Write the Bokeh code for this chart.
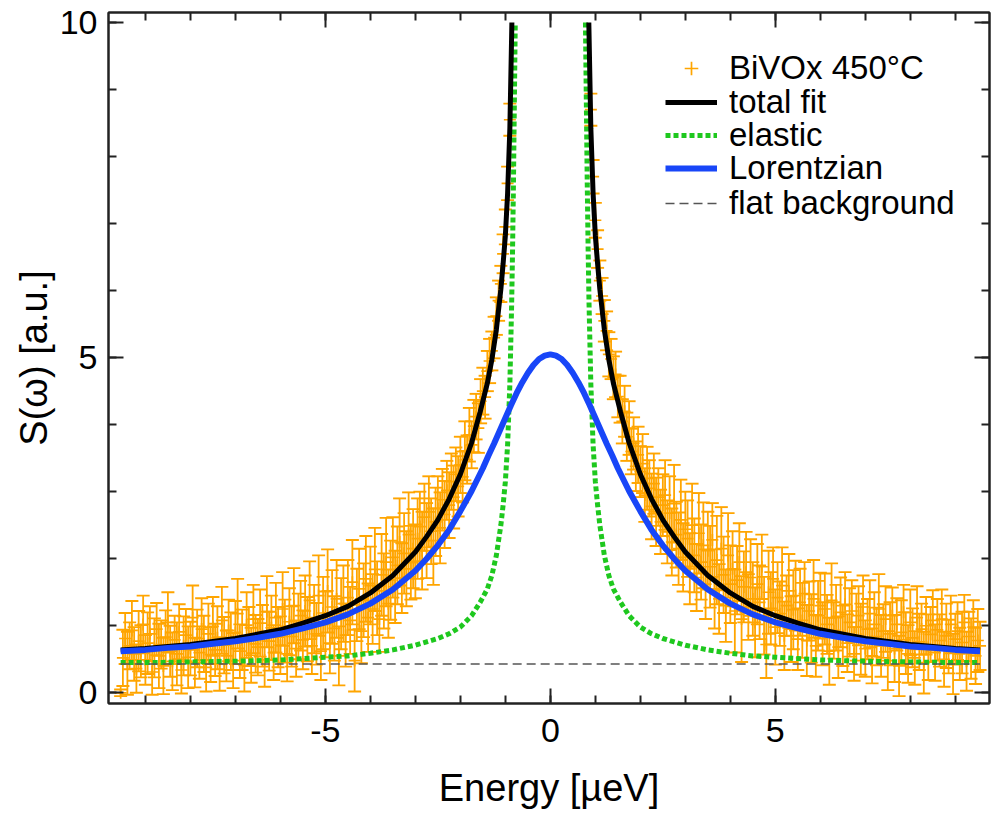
from bokeh.plotting import figure
from bokeh.models import (Range1d, LinearAxis, SingleIntervalTicker, Legend,
                          LegendItem, ColumnDataSource)
from bokeh.embed import file_html
from bokeh.resources import INLINE

# ---------------- data ----------------
energy_left = [
    -9.55,
    -9.50, -9.45, -9.40, -9.35, -9.30, -9.25, -9.20, -9.15, -9.10, -9.05,
    -9.00, -8.95, -8.90, -8.85, -8.80, -8.75, -8.70, -8.65, -8.60, -8.55,
    -8.50, -8.45, -8.40, -8.35, -8.30, -8.25, -8.20, -8.15, -8.10, -8.05,
    -8.00, -7.95, -7.90, -7.85, -7.80, -7.75, -7.70, -7.65, -7.60, -7.55,
    -7.50, -7.45, -7.40, -7.35, -7.30, -7.25, -7.20, -7.15, -7.10, -7.05,
    -7.00, -6.95, -6.90, -6.85, -6.80, -6.75, -6.70, -6.65, -6.60, -6.55,
    -6.50, -6.45, -6.40, -6.35, -6.30, -6.25, -6.20, -6.15, -6.10, -6.05,
    -6.00, -5.95, -5.90, -5.85, -5.80, -5.75, -5.70, -5.65, -5.60, -5.55,
    -5.50, -5.45, -5.40, -5.35, -5.30, -5.25, -5.20, -5.15, -5.10, -5.05,
    -5.00, -4.95, -4.90, -4.85, -4.80, -4.75, -4.70, -4.65, -4.60, -4.55,
    -4.50, -4.45, -4.40, -4.35, -4.30, -4.25, -4.20, -4.15, -4.10, -4.05,
    -4.00, -3.95, -3.90, -3.85, -3.80, -3.75, -3.70, -3.65, -3.60, -3.55,
    -3.50, -3.45, -3.40, -3.35, -3.30, -3.25, -3.20, -3.15, -3.10, -3.05,
    -3.00, -2.95, -2.90, -2.85, -2.80, -2.75, -2.70, -2.65, -2.60, -2.55,
    -2.50, -2.45, -2.40, -2.35, -2.30, -2.25, -2.20, -2.15, -2.10, -2.05,
    -2.00, -1.95, -1.90, -1.85, -1.80, -1.75, -1.70, -1.65, -1.60, -1.55,
    -1.50, -1.45, -1.40, -1.35, -1.30, -1.25, -1.20, -1.15, -1.10, -1.05,
    -1.00, -0.95, -0.90,
]
intensity_left = [
    0.00,
    0.52, 0.81, 0.44, 0.70, 0.93, 0.58, 0.36, 0.77, 0.62, 1.02,
    0.49, 0.74, 0.88, 0.31, 0.67, 0.95, 0.55, 0.72, 0.40, 0.83,
    1.05, 0.62, 0.47, 0.79, 0.58, 0.91, 0.34, 0.70, 0.86, 0.53,
    0.66, 1.12, 0.45, 0.81, 0.60, 0.95, 0.73, 0.38, 0.88, 0.57,
    0.99, 0.64, 0.82, 0.43, 1.08, 0.71, 0.55, 0.93, 0.77, 0.48,
    0.90, 1.18, 0.62, 0.79, 0.41, 1.01, 0.84, 0.56, 1.10, 0.73,
    0.68, 1.04, 0.85, 0.49, 1.21, 0.77, 0.97, 0.60, 1.12, 0.83,
    0.71, 1.25, 0.92, 0.58, 1.06, 0.84, 1.30, 0.66, 0.99, 1.15,
    0.79, 1.22, 0.95, 1.38, 0.70, 1.10, 0.88, 1.45, 0.62, 1.19,
    1.02, 1.52, 0.74, 1.28, 0.96, 1.40, 0.55, 1.18, 1.33, 0.86,
    1.42, 1.08, 1.65, 0.48, 1.31, 1.55, 0.92, 1.38, 1.70, 1.12,
    1.60, 1.25, 1.84, 1.41, 1.10, 1.76, 1.52, 1.95, 1.33, 1.68,
    2.02, 1.58, 1.90, 2.25, 1.71, 2.08, 1.85, 2.36, 1.94, 2.15,
    1.96, 2.30, 2.48, 2.12, 2.62, 2.27, 2.70, 2.41, 2.18, 2.55,
    2.75, 2.46, 2.88, 2.66, 3.02, 2.80, 3.15, 2.92, 3.26, 3.08,
    3.40, 3.22, 3.61, 3.48, 3.85, 3.70, 3.98, 4.12, 3.95, 4.35,
    4.50, 4.41, 4.80, 4.95, 5.10, 5.30, 5.62, 5.85, 6.10, 6.55,
    6.95, 7.60, 8.55,
]
error_left = [
    0.05,
    0.42, 0.38, 0.47, 0.35, 0.44, 0.40, 0.36, 0.45, 0.39, 0.43,
    0.37, 0.46, 0.41, 0.34, 0.44, 0.39, 0.48, 0.36, 0.42, 0.40,
    0.45, 0.38, 0.43, 0.36, 0.47, 0.41, 0.35, 0.44, 0.39, 0.46,
    0.40, 0.48, 0.37, 0.43, 0.39, 0.46, 0.42, 0.36, 0.45, 0.41,
    0.44, 0.39, 0.47, 0.40, 0.50, 0.42, 0.38, 0.46, 0.43, 0.41,
    0.47, 0.52, 0.40, 0.45, 0.39, 0.49, 0.44, 0.41, 0.51, 0.43,
    0.42, 0.50, 0.46, 0.40, 0.53, 0.44, 0.48, 0.41, 0.52, 0.45,
    0.43, 0.55, 0.47, 0.41, 0.50, 0.45, 0.56, 0.42, 0.49, 0.52,
    0.44, 0.53, 0.48, 0.58, 0.42, 0.51, 0.46, 0.60, 0.43, 0.54,
    0.49, 0.62, 0.45, 0.55, 0.48, 0.58, 0.44, 0.53, 0.57, 0.47,
    0.56, 0.50, 0.63, 0.46, 0.54, 0.60, 0.48, 0.55, 0.64, 0.51,
    0.58, 0.52, 0.62, 0.55, 0.49, 0.61, 0.56, 0.66, 0.51, 0.59,
    0.60, 0.54, 0.58, 0.65, 0.52, 0.60, 0.56, 0.63, 0.55, 0.59,
    0.55, 0.60, 0.52, 0.58, 0.50, 0.56, 0.53, 0.49, 0.57, 0.51,
    0.48, 0.53, 0.46, 0.50, 0.44, 0.49, 0.42, 0.47, 0.40, 0.45,
    0.42, 0.38, 0.44, 0.36, 0.40, 0.35, 0.39, 0.34, 0.37, 0.33,
    0.35, 0.32, 0.30, 0.33, 0.29, 0.31, 0.28, 0.30, 0.27, 0.29,
    0.26, 0.25, 0.24,
]

energy_right = [
    0.90, 0.95, 1.00,
    1.05, 1.10, 1.15, 1.20, 1.25, 1.30, 1.35, 1.40, 1.45, 1.50,
    1.55, 1.60, 1.65, 1.70, 1.75, 1.80, 1.85, 1.90, 1.95, 2.00,
    2.05, 2.10, 2.15, 2.20, 2.25, 2.30, 2.35, 2.40, 2.45, 2.50,
    2.55, 2.60, 2.65, 2.70, 2.75, 2.80, 2.85, 2.90, 2.95, 3.00,
    3.05, 3.10, 3.15, 3.20, 3.25, 3.30, 3.35, 3.40, 3.45, 3.50,
    3.55, 3.60, 3.65, 3.70, 3.75, 3.80, 3.85, 3.90, 3.95, 4.00,
    4.05, 4.10, 4.15, 4.20, 4.25, 4.30, 4.35, 4.40, 4.45, 4.50,
    4.55, 4.60, 4.65, 4.70, 4.75, 4.80, 4.85, 4.90, 4.95, 5.00,
    5.05, 5.10, 5.15, 5.20, 5.25, 5.30, 5.35, 5.40, 5.45, 5.50,
    5.55, 5.60, 5.65, 5.70, 5.75, 5.80, 5.85, 5.90, 5.95, 6.00,
    6.05, 6.10, 6.15, 6.20, 6.25, 6.30, 6.35, 6.40, 6.45, 6.50,
    6.55, 6.60, 6.65, 6.70, 6.75, 6.80, 6.85, 6.90, 6.95, 7.00,
    7.05, 7.10, 7.15, 7.20, 7.25, 7.30, 7.35, 7.40, 7.45, 7.50,
    7.55, 7.60, 7.65, 7.70, 7.75, 7.80, 7.85, 7.90, 7.95, 8.00,
    8.05, 8.10, 8.15, 8.20, 8.25, 8.30, 8.35, 8.40, 8.45, 8.50,
    8.55, 8.60, 8.65, 8.70, 8.75, 8.80, 8.85, 8.90, 8.95, 9.00,
    9.05, 9.10, 9.15, 9.20, 9.25, 9.30, 9.35, 9.40, 9.45, 9.50,
    9.55,
]
intensity_right = [
    8.70, 7.70, 7.05,
    6.62, 6.15, 5.92, 5.55, 5.40, 5.05, 4.98, 4.70, 4.75, 4.42,
    4.38, 4.05, 4.20, 3.82, 3.95, 3.60, 3.72, 3.38, 3.55, 3.30,
    3.42, 2.95, 3.20, 3.05, 2.78, 3.12, 2.70, 2.92, 2.55, 2.80,
    2.95, 2.40, 2.68, 2.25, 2.82, 2.36, 2.15, 2.58, 2.02, 2.44,
    2.30, 1.85, 2.50, 2.05, 1.72, 2.38, 1.95, 2.20, 1.62, 2.12,
    1.88, 2.28, 1.55, 1.98, 1.40, 2.15, 1.76, 1.30, 2.05, 1.62,
    1.85, 1.22, 1.68, 1.95, 1.10, 1.58, 1.80, 1.28, 1.72, 1.40,
    1.05, 1.62, 1.35, 1.88, 1.15, 0.72, 1.50, 1.26, 1.70, 0.98,
    1.42, 1.18, 1.60, 0.85, 1.30, 1.52, 0.95, 1.24, 1.45, 0.80,
    1.35, 1.08, 1.48, 0.78, 1.22, 0.96, 1.40, 0.70, 1.15, 1.30,
    0.88, 1.25, 1.02, 0.62, 1.38, 0.93, 1.12, 0.68, 1.20, 0.85,
    1.32, 0.74, 1.05, 1.22, 0.58, 0.98, 1.15, 0.80, 1.28, 0.66,
    0.95, 1.18, 0.55, 1.02, 0.84, 1.25, 0.70, 0.92, 1.10, 0.48,
    0.88, 1.15, 0.66, 1.02, 0.40, 0.90, 1.20, 0.74, 0.58, 1.05,
    0.82, 0.52, 1.12, 0.76, 0.95, 0.45, 1.00, 0.68, 0.87, 1.08,
    0.60, 0.94, 0.78, 1.10, 0.50, 0.85, 0.69, 1.02, 0.43, 0.80,
    0.92, 0.58, 0.75, 1.05, 0.47, 0.84, 0.66, 0.98, 0.55, 0.78,
    0.70,
]
error_right = [
    0.24, 0.25, 0.26,
    0.28, 0.30, 0.27, 0.31, 0.29, 0.33, 0.30, 0.32, 0.34, 0.31,
    0.35, 0.33, 0.38, 0.36, 0.40, 0.34, 0.39, 0.37, 0.42, 0.38,
    0.44, 0.40, 0.47, 0.42, 0.49, 0.45, 0.51, 0.43, 0.48, 0.46,
    0.52, 0.47, 0.55, 0.50, 0.58, 0.49, 0.54, 0.60, 0.51, 0.56,
    0.57, 0.53, 0.62, 0.55, 0.50, 0.60, 0.56, 0.64, 0.52, 0.58,
    0.61, 0.55, 0.59, 0.66, 0.52, 0.62, 0.57, 0.54, 0.63, 0.58,
    0.56, 0.62, 0.51, 0.58, 0.64, 0.53, 0.60, 0.49, 0.57, 0.55,
    0.52, 0.60, 0.55, 0.48, 0.58, 0.50, 0.62, 0.54, 0.47, 0.56,
    0.53, 0.48, 0.57, 0.51, 0.45, 0.55, 0.49, 0.59, 0.52, 0.46,
    0.50, 0.56, 0.47, 0.53, 0.44, 0.51, 0.58, 0.46, 0.52, 0.49,
    0.47, 0.53, 0.44, 0.50, 0.55, 0.42, 0.49, 0.46, 0.52, 0.45,
    0.48, 0.43, 0.51, 0.46, 0.40, 0.50, 0.44, 0.53, 0.47, 0.42,
    0.45, 0.50, 0.41, 0.48, 0.43, 0.52, 0.46, 0.40, 0.49, 0.44,
    0.47, 0.42, 0.50, 0.39, 0.45, 0.48, 0.41, 0.46, 0.43, 0.49,
    0.44, 0.40, 0.47, 0.42, 0.38, 0.46, 0.43, 0.49, 0.41, 0.45,
    0.42, 0.46, 0.39, 0.44, 0.41, 0.48, 0.40, 0.43, 0.45, 0.38,
    0.43, 0.39, 0.46, 0.41, 0.44, 0.37, 0.45, 0.40, 0.42, 0.47,
    0.36,
]

# total fit (clipped at the top of the plot)
fit_x_left = [-9.55, -9.0, -8.0, -7.0, -6.0, -5.5, -5.0, -4.5, -4.0, -3.5, -3.0,
              -2.75, -2.5, -2.25, -2.0, -1.75, -1.56, -1.4, -1.3, -1.2, -1.1,
              -1.05, -1.0, -0.95, -0.90, -0.855]
fit_y_left = [0.64, 0.66, 0.72, 0.81, 0.94, 1.04, 1.15, 1.29, 1.49, 1.75, 2.10,
              2.33, 2.58, 2.89, 3.26, 3.73, 4.19, 4.62, 4.97, 5.42, 6.02,
              6.40, 6.82, 7.45, 8.42, 10.0]
fit_x_right = [0.855, 0.90, 0.95, 1.0, 1.05, 1.1, 1.2, 1.3, 1.4, 1.56, 1.75, 2.0,
               2.25, 2.5, 2.75, 3.0, 3.5, 4.0, 4.5, 5.0, 5.5, 6.0, 7.0, 8.0, 9.0, 9.55]
fit_y_right = [10.0, 8.42, 7.45, 6.82, 6.40, 6.02, 5.42, 4.97, 4.62, 4.19, 3.73, 3.26,
               2.89, 2.58, 2.33, 2.10, 1.75, 1.49, 1.29, 1.15, 1.04, 0.94, 0.81, 0.72, 0.66, 0.64]

# elastic (resolution) component
elastic_x_left = [-9.55, -9.0, -8.0, -7.0, -6.0, -5.5, -5.0, -4.5, -4.0, -3.5, -3.0,
                  -2.75, -2.5, -2.25, -2.0, -1.75, -1.56, -1.4, -1.3, -1.2, -1.1,
                  -1.05, -1.0, -0.95, -0.90, -0.86, -0.84, -0.82, -0.80, -0.78]
elastic_y_left = [0.45, 0.45, 0.46, 0.47, 0.49, 0.51, 0.53, 0.55, 0.59, 0.64, 0.71,
                  0.76, 0.81, 0.88, 0.98, 1.15, 1.35, 1.55, 1.75, 2.05, 2.50,
                  2.80, 3.15, 3.70, 4.60, 5.80, 6.60, 7.60, 8.80, 10.0]
elastic_x_right = [0.78, 0.80, 0.82, 0.84, 0.86, 0.90, 0.95, 1.0, 1.05, 1.1, 1.2, 1.3,
                   1.4, 1.56, 1.75, 2.0, 2.25, 2.5, 2.75, 3.0, 3.5, 4.0, 4.5, 5.0,
                   5.5, 6.0, 7.0, 8.0, 9.0, 9.55]
elastic_y_right = [10.0, 8.80, 7.60, 6.60, 5.80, 4.60, 3.70, 3.15, 2.80, 2.50, 2.05, 1.75,
                   1.55, 1.35, 1.15, 0.98, 0.88, 0.81, 0.76, 0.71, 0.64, 0.59, 0.55, 0.53,
                   0.51, 0.49, 0.47, 0.46, 0.45, 0.45]

# quasielastic Lorentzian component
lor_x = [-9.55, -9.0, -8.5, -8.0, -7.5, -7.0, -6.5, -6.0, -5.5, -5.0, -4.5, -4.0,
         -3.5, -3.0, -2.75, -2.5, -2.25, -2.0, -1.75, -1.5, -1.375, -1.25, -1.125,
         -1.0, -0.875, -0.75, -0.625, -0.5, -0.375, -0.25, -0.125, 0.0,
         0.125, 0.25, 0.375, 0.5, 0.625, 0.75, 0.875, 1.0, 1.125, 1.25, 1.375, 1.5,
         1.75, 2.0, 2.25, 2.5, 2.75, 3.0, 3.5, 4.0, 4.5, 5.0, 5.5, 6.0, 6.5, 7.0,
         7.5, 8.0, 8.5, 9.0, 9.55]
lor_y = [0.62, 0.64, 0.67, 0.69, 0.73, 0.77, 0.82, 0.88, 0.96, 1.05, 1.17, 1.33,
         1.54, 1.82, 2.00, 2.20, 2.43, 2.71, 3.01, 3.35, 3.54, 3.72, 3.91,
         4.10, 4.29, 4.47, 4.63, 4.77, 4.89, 4.98, 5.03, 5.05,
         5.03, 4.98, 4.89, 4.77, 4.63, 4.47, 4.29, 4.10, 3.91, 3.72, 3.54, 3.35,
         3.01, 2.71, 2.43, 2.20, 2.00, 1.82, 1.54, 1.33, 1.17, 1.05, 0.96, 0.88, 0.82, 0.77,
         0.73, 0.69, 0.67, 0.64, 0.62]

# flat background
bg_x = [-9.55, 9.55]
bg_y = [0.43, 0.43]

# tick labels as printed in the reference
x_tick_labels = {-5: "-5", 0: "0", 5: "5"}
y_tick_labels = {0: "0", 5: "5", 10: "10"}

# legend labels
legend_labels = ["BiVOx 450°C", "total fit", "elastic", "Lorentzian", "flat background"]

# ---------------- styling ----------------
ORANGE = "#FFA500"
GREEN = "#1EC81E"
BLUE = "#1846F8"
FONT = "Liberation Sans"

energy = energy_left + energy_right
intensity = intensity_left + intensity_right
error = error_left + error_right
src = ColumnDataSource(dict(
    x=energy, y=intensity,
    lo=[v - e for v, e in zip(intensity, error)],
    hi=[v + e for v, e in zip(intensity, error)],
))

p = figure(width=1006, height=822, output_backend="svg", toolbar_location=None,
           x_range=Range1d(-9.82, 9.76), y_range=Range1d(-0.16, 10.15),
           min_border_left=108, min_border_right=17, min_border_top=12,
           min_border_bottom=119,
           x_axis_label="Energy [µeV]", y_axis_label="S(ω) [a.u.]")
p.xgrid.visible = False
p.ygrid.visible = False
p.outline_line_color = "#222222"
p.outline_line_width = 2
p.background_fill_color = "white"
p.border_fill_color = "white"


def style_axis(ax, labels=True):
    ax.ticker = SingleIntervalTicker(interval=5, num_minor_ticks=5)
    ax.axis_line_color = "#222222"
    ax.axis_line_width = 2
    ax.major_tick_in = 15
    ax.major_tick_out = 0
    ax.minor_tick_in = 8
    ax.minor_tick_out = 0
    ax.major_tick_line_width = 2
    ax.minor_tick_line_width = 2
    ax.major_tick_line_color = "#222222"
    ax.minor_tick_line_color = "#222222"
    ax.major_label_text_font = FONT
    ax.axis_label_text_font = FONT
    ax.axis_label_text_font_style = "normal"
    ax.axis_label_text_color = "black"
    ax.axis_label_text_font_size = "38px"
    if labels:
        ax.major_label_text_font_size = "34px"
        ax.major_label_text_color = "black"
    else:
        ax.major_label_text_font_size = "1px"
        ax.major_label_text_color = None
        ax.major_label_standoff = 0


style_axis(p.xaxis[0])
style_axis(p.yaxis[0])
p.xaxis[0].major_label_overrides = x_tick_labels
p.yaxis[0].major_label_overrides = y_tick_labels
p.xaxis[0].major_label_standoff = 15
p.xaxis[0].axis_label_standoff = 22
p.yaxis[0].major_label_standoff = 11
p.yaxis[0].axis_label_standoff = 2

top_ax = LinearAxis()
style_axis(top_ax, labels=False)
p.add_layout(top_ax, "above")
right_ax = LinearAxis()
style_axis(right_ax, labels=False)
p.add_layout(right_ax, "right")

# error bars
p.segment(x0="x", y0="lo", x1="x", y1="hi", source=src, line_color=ORANGE, line_width=1.8)
p.scatter(x="x", y="hi", source=src, marker="dash", size=13, line_color=ORANGE, line_width=1.9)
p.scatter(x="x", y="lo", source=src, marker="dash", size=13, line_color=ORANGE, line_width=1.9)
pts = p.scatter(x="x", y="y", source=src, marker="cross", size=12, line_color=ORANGE, line_width=1.7)

# components
el1 = p.line(elastic_x_left, elastic_y_left, line_color=GREEN, line_width=5, line_dash="5 3")
el2 = p.line(elastic_x_right, elastic_y_right, line_color=GREEN, line_width=5, line_dash="5 3")
bg = p.line(bg_x, bg_y, line_color="#555555", line_width=1.6, line_dash="9 5")
tf1 = p.line(fit_x_left, fit_y_left, line_color="black", line_width=5)
tf2 = p.line(fit_x_right, fit_y_right, line_color="black", line_width=5)
lo = p.line(lor_x, lor_y, line_color=BLUE, line_width=6)

# one single-entry legend per row so the row pitch matches the reference
legend_renderers = [pts, tf1, el1, lo, bg]
legend_offsets = [616, 582, 549, 516, 481]
for label, rend, off in zip(legend_labels, legend_renderers, legend_offsets):
    lg = Legend(items=[LegendItem(label=label, renderers=[rend])],
                location=(557, off), border_line_color=None,
                background_fill_alpha=0, padding=0, margin=0, spacing=0,
                glyph_width=52, glyph_height=34, label_height=34,
                label_standoff=12, label_text_font=FONT,
                label_text_font_size="33px", label_text_color="black")
    p.add_layout(lg)

open("out.html", "w").write(file_html(p, INLINE))
